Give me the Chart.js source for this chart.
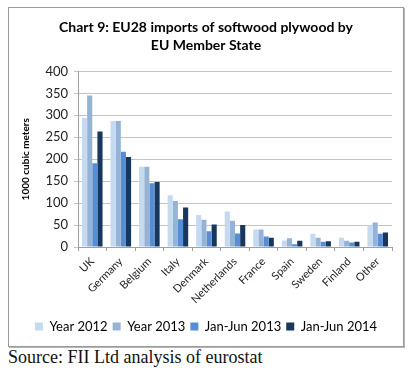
<!DOCTYPE html>
<html><head><meta charset="utf-8">
<script src="https://cdn.jsdelivr.net/npm/chart.js@4"></script>
<style>
html,body{margin:0;padding:0;background:#fff;width:414px;height:372px;overflow:hidden;}
#box{position:absolute;left:8px;top:7px;width:394px;height:338px;border:1px solid #9a9a9a;box-shadow:1px 1px 0 #b5b5b5;background:#fff;}
#src{position:absolute;left:8px;top:347px;font-family:"Liberation Serif","Times New Roman",serif;font-size:18px;color:#111;white-space:nowrap;}
</style></head>
<body>
<div id="box"><canvas id="c" width="394" height="338"></canvas></div>
<div id="src">Source: FII Ltd analysis of eurostat</div>
<script>
const categories = ["UK","Germany","Belgium","Italy","Denmark","Netherlands","France","Spain","Sweden","Finland","Other"];
const seriesNames = ["Year 2012","Year 2013","Jan-Jun 2013","Jan-Jun 2014"];
const year2012 = [294, 287, 183, 118, 73, 81, 40, 15, 30, 21, 49];
const year2013 = [345, 287, 183, 105, 62, 60, 40, 20, 21, 14, 56];
const janJun2013 = [191, 217, 145, 63, 36, 31, 24, 6, 12, 10, 30];
const janJun2014 = [263, 205, 148, 90, 51, 50, 21, 14, 13, 12, 33];
const yTicks = [0, 50, 100, 150, 200, 250, 300, 350, 400];
const colors = ["#c5d9f1", "#95b3d7", "#558ed5", "#17375e"];

const seriesValues = [year2012, year2013, janJun2013, janJun2014];
const font = "Lato, 'Open Sans', sans-serif";

new Chart(document.getElementById('c'), {
  type: 'bar',
  data: {
    labels: categories,
    datasets: seriesNames.map((n, i) => ({
      label: n, data: seriesValues[i], backgroundColor: colors[i],
      borderWidth: 0, categoryPercentage: 0.72, barPercentage: 1.0
    }))
  },
  options: {
    responsive: false, animation: false, devicePixelRatio: 1,
    layout: { padding: { left: 11, right: 11, top: 10, bottom: 3 } },
    plugins: {
      title: { display: true, text: ["Chart 9: EU28 imports of softwood plywood by", "EU Member State"],
        color: '#000', font: { family: font, size: 14, weight: 'bold', lineHeight: 1.3 }, padding: { top: 0, bottom: 17 } },
      legend: { position: 'bottom', labels: { boxWidth: 8, boxHeight: 8, padding: 5, color: '#000',
        font: { family: font, size: 13 } } },
      tooltip: { enabled: false }
    },
    scales: {
      x: {
        offset: true,
        afterFit: s => { s.height = 68; },
        grid: { display: true, drawOnChartArea: false, offset: true, tickLength: 4, color: '#a0a0a0' },
        border: { color: '#a0a0a0' },
        ticks: { minRotation: 45, maxRotation: 45, color: '#222', font: { family: font, size: 11 }, padding: 4 }
      },
      y: {
        min: 0, max: 400,
        afterFit: s => { s.width = 58; },
        afterBuildTicks: s => { s.ticks = yTicks.map(v => ({ value: v })); },
        grid: { color: '#c4c4c4', tickLength: 4 },
        border: { color: '#a0a0a0' },
        ticks: { color: '#222', font: { family: font, size: 13 }, padding: 6 },
        title: { display: true, text: '1000 cubic meters', color: '#000', font: { family: font, size: 10, weight: 'bold' }, padding: { top: 0, bottom: 2 } }
      }
    }
  }
});
</script>
</body></html>
